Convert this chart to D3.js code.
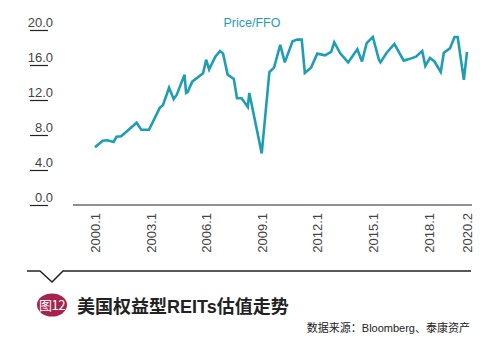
<!DOCTYPE html>
<html>
<head>
<meta charset="utf-8">
<script src="https://cdn.jsdelivr.net/npm/d3@7"></script>
<style>
body { margin: 0; background: #fff; }
svg { display: block; font-family: "Liberation Sans", Arial, "Noto Sans CJK SC", sans-serif; }
</style>
</head>
<body>
<div id="chart"></div>
<script>
// month of each point (yyyy-mm) and the Price/FFO value
var months = ["2000-01", "2000-06", "2000-09", "2001-01", "2001-03", "2001-06", "2002-04", "2002-07", "2002-12",
    "2003-07", "2003-09", "2004-01", "2004-04", "2004-06", "2004-11", "2004-12", "2005-01", "2005-04", "2005-11",
    "2006-01", "2006-03", "2006-07", "2006-10", "2006-12", "2007-03", "2007-07", "2007-09", "2007-12", "2008-04",
    "2008-05", "2009-01", "2009-06", "2009-09", "2010-01", "2010-04", "2010-09", "2010-12", "2011-03", "2011-05",
    "2011-09", "2012-01", "2012-06", "2012-10", "2012-12", "2013-04", "2013-09", "2014-03", "2014-06", "2014-09",
    "2015-01", "2015-05", "2015-06", "2015-10", "2016-03", "2016-09", "2017-01", "2017-05", "2017-09", "2017-11",
    "2018-02", "2018-05", "2018-09", "2018-11", "2019-03", "2019-06", "2019-08", "2019-12", "2020-02"];
var priceFFO = [6.6, 7.35, 7.4, 7.2, 7.8, 7.85, 9.4, 8.6, 8.6,
    11.1, 11.4, 13.4, 12.1, 12.6, 14.9, 12.8, 12.9, 14.1, 15.05,
    16.6, 15.5, 16.95, 17.6, 17.3, 14.9, 14.4, 12.2, 12.2, 11.2,
    12.8, 5.9, 15.2, 15.7, 18.3, 16.3, 18.7, 18.9, 18.9, 15.1,
    15.7, 17.3, 17.1, 17.5, 18.6, 17.3, 16.3, 17.8, 16.4, 18.5,
    19.2, 16.6, 16.3, 17.4, 18.4, 16.5, 16.7, 16.95, 17.6, 15.9,
    16.8, 16.4, 15.2, 17.4, 17.9, 19.2, 19.2, 14.3, 17.5];

var xTickLabels = ["2000.1", "2003.1", "2006.1", "2009.1", "2012.1", "2015.1", "2018.1", "2020.2"];
var yTicks = [0, 4, 8, 12, 16, 20];

var seriesName = "Price/FFO";
var title = "美国权益型REITs估值走势";
var badge = "图12";
var source = "数据来源：Bloomberg、泰康资产";

var width = 491, height = 354;
var lineColor = "#1f9db3";

var parseMonth = d3.timeParse("%Y-%m");
var parseTick = d3.timeParse("%Y.%m");
var data = months.map(function (m, i) {
    return {date: parseMonth(m), value: priceFFO[i]};
});

var svg = d3.select("#chart").append("svg").attr("width", width).attr("height", height);

var x = d3.scaleTime().domain([parseTick("2000.1"), parseTick("2020.2")]).range([95, 467]);
var y = d3.scaleLinear().domain([0, 20]).range([205, 30]);

// y axis: short rules under each label
var yAxis = svg.append("g").attr("transform", "translate(48,0)")
    .call(d3.axisLeft(y).tickValues(yTicks).tickFormat(d3.format(".1f")).tickSize(18));
yAxis.select(".domain").remove();
yAxis.selectAll(".tick line").attr("stroke", "#222").attr("stroke-width", 1.2);
yAxis.selectAll(".tick text")
    .attr("x", 5).attr("dy", "-0.3em").attr("text-anchor", "end")
    .attr("fill", "#444").style("font-size", "13px").style("font-family", "Liberation Sans, Arial, sans-serif");

// x axis
var xAxis = svg.append("g").attr("transform", "translate(0," + y(0) + ")")
    .call(d3.axisBottom(x).tickValues(xTickLabels.map(parseTick)).tickSize(0)
        .tickFormat(function (d, i) { return xTickLabels[i]; }));
xAxis.select(".domain").remove();
xAxis.append("line").attr("x1", x.range()[0] - 22).attr("x2", x.range()[1] + 5)
    .attr("stroke", "#222").attr("stroke-width", 1.2);
xAxis.selectAll(".tick text")
    .attr("transform", "rotate(-90)").attr("x", -8).attr("y", 0).attr("dy", "0.36em")
    .attr("text-anchor", "end").attr("fill", "#444")
    .style("font-size", "13px").style("font-family", "Liberation Sans, Arial, sans-serif");

// the line
var line = d3.line().x(function (d) { return x(d.date); }).y(function (d) { return y(d.value); });
svg.append("path").datum(data).attr("d", line)
    .attr("fill", "none").attr("stroke", lineColor).attr("stroke-width", 2.6)
    .attr("stroke-linejoin", "miter").attr("stroke-miterlimit", 3);

svg.append("text").attr("x", 252).attr("y", 27).attr("text-anchor", "middle")
    .attr("fill", lineColor).style("font-size", "12.5px").text(seriesName);

// footer: rule with notch, badge, title, source
svg.append("path").attr("d", "M27,271H40L52,282L63,271H471")
    .attr("fill", "none").attr("stroke", "#222").attr("stroke-width", 1.5);

svg.append("ellipse").attr("cx", 52).attr("cy", 305).attr("rx", 15).attr("ry", 11.5).attr("fill", "#a6244b");
svg.append("text").attr("x", 52).attr("y", 310).attr("text-anchor", "middle")
    .attr("fill", "#fff").style("font-size", "13px").style("font-family", "Noto Sans CJK SC, sans-serif")
    .style("letter-spacing", "-0.5px").text(badge);

svg.append("text").attr("x", 77).attr("y", 313)
    .attr("fill", "#222").style("font-size", "18px").style("font-weight", "bold").text(title);

svg.append("text").attr("x", 470).attr("y", 332).attr("text-anchor", "end")
    .attr("fill", "#222").style("font-size", "11px").text(source);
</script>
</body>
</html>
